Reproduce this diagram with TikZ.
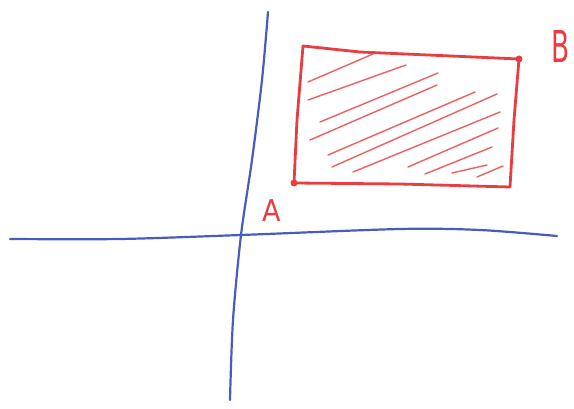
\documentclass[tikz,border=0pt]{standalone}
\usepackage{fontspec}
\setmainfont{DejaVu Sans}
\definecolor{penblue}{RGB}{72,92,190}
\definecolor{penred}{RGB}{232,62,66}
\definecolor{hatchred}{RGB}{236,96,100}
\begin{document}
\begin{tikzpicture}[x=1pt,y=-1pt,
  axis/.style={penblue,line width=2.2pt,line cap=round,line join=round},
  box/.style={penred,line width=2.8pt,line cap=round,line join=round},
  hatch/.style={hatchred,line width=1.4pt,line cap=round},
  dot/.style={circle,fill=penred,inner sep=0pt,minimum size=7pt},
  lbl/.style={penred,inner sep=0pt}]
\useasboundingbox (0,0) rectangle (574,409);
% axes
\draw[axis] plot[smooth] coordinates {(268,12) (262,80) (252,160) (241,235) (233,320) (230,400)};
\draw[axis] plot[smooth] coordinates {(10,239) (120,239) (241,235) (400,229) (480,230) (557,236)};
% rectangle
\node[dot] (a) at (294,183) {};
\node[dot] (b) at (519,59) {};
\draw[box] (a.center) -- (297,120) -- (303,46) -- (360,52) -- (b.center) -- (514,120) -- (510,187) -- (400,184) -- cycle;
% hatching
\foreach \p/\q in {{(308,82)}/{(373,54)}, {(308,100)}/{(406,65)}, {(320,122)}/{(438,73)},
  {(310,140)}/{(437,85)}, {(328,155)}/{(475,92)}, {(332,167)}/{(497,94)},
  {(353,172)}/{(500,112)}, {(408,167)}/{(498,128)}, {(425,174)}/{(492,147)},
  {(452,173)}/{(487,165)}, {(477,177)}/{(503,166)}}
  \draw[hatch] \p -- \q;
% labels
\node[lbl,font=\fontsize{30}{30}\selectfont,xscale=0.9] (la) at (272,211) {A};
\node[lbl,font=\fontsize{44}{44}\selectfont,xscale=0.6] (lb) at (561,46) {B};
\end{tikzpicture}
\end{document}
